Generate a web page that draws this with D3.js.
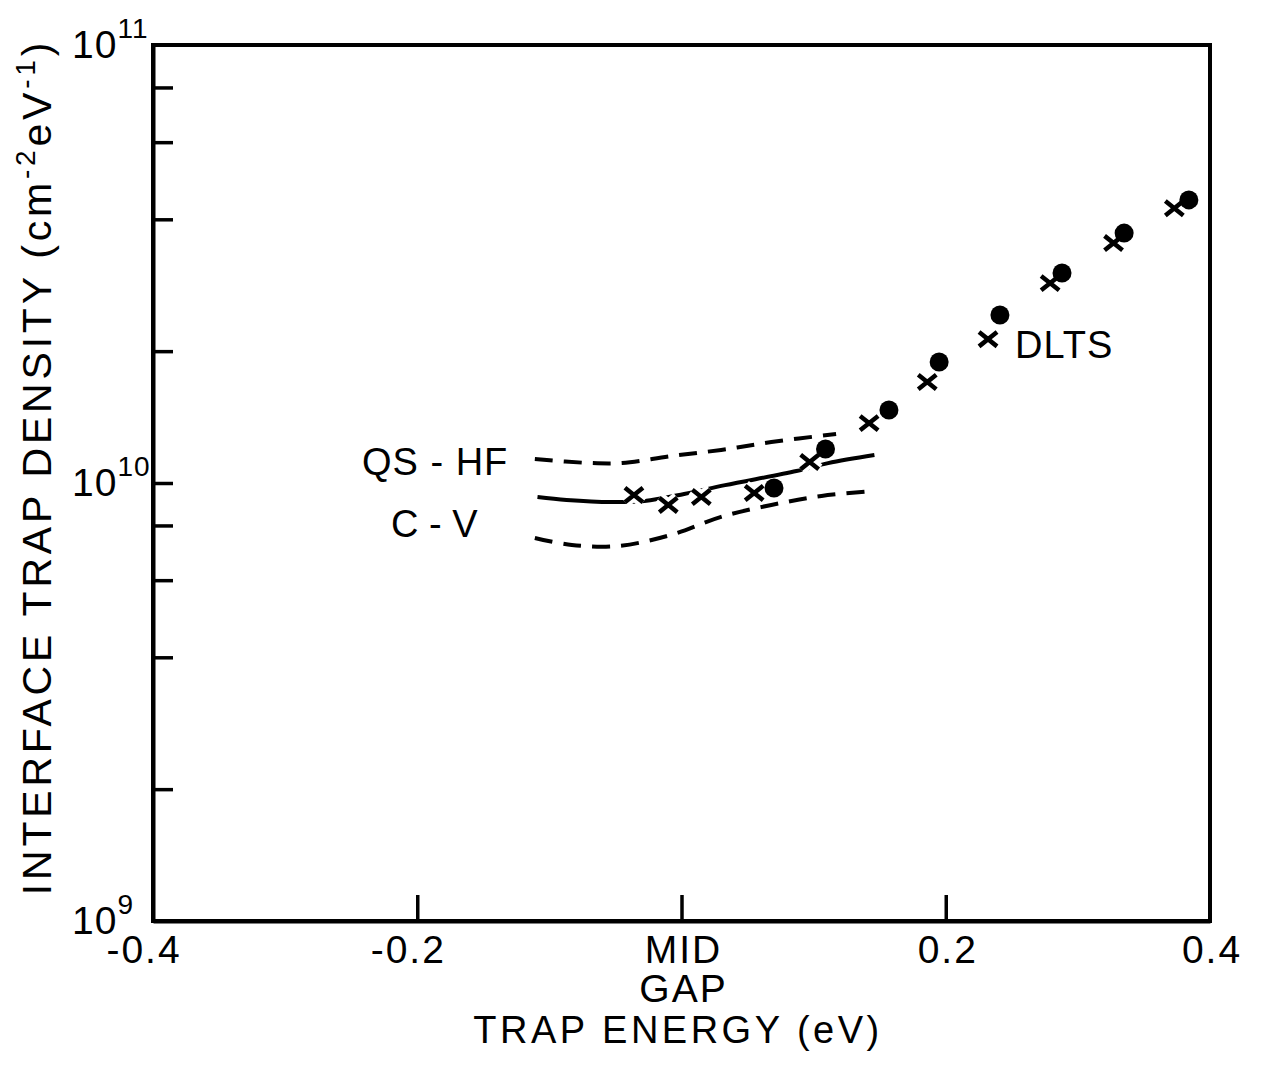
<!DOCTYPE html>
<html><head><meta charset="utf-8">
<script src="https://cdn.jsdelivr.net/npm/d3@7"></script>
<style>body{margin:0;background:#fff}text{font-family:"Liberation Sans",Arial,sans-serif;fill:#000}</style>
</head><body><svg id="c" width="1267" height="1068"></svg>
<script>
// ---- data ----
const qshfEnergy = [-0.111, -0.070, -0.045, -0.008, 0.030, 0.068, 0.117];
const qshfDensity = [1.134e10, 1.111e10, 1.111e10, 1.152e10, 1.19e10, 1.24e10, 1.294e10];
const cvEnergy = [-0.109, -0.087, -0.053, -0.028, 0.002, 0.033, 0.087, 0.111, 0.146];
const cvDensity = [9.29e9, 9.15e9, 9.05e9, 9.1e9, 9.44e9, 9.89e9, 1.065e10, 1.11e10, 1.158e10];
const cvLowEnergy = [-0.111, -0.083, -0.048, -0.008, 0.030, 0.068, 0.106, 0.145];
const cvLowDensity = [7.49e9, 7.22e9, 7.18e9, 7.61e9, 8.37e9, 8.91e9, 9.34e9, 9.59e9];
const crossEnergy = [-0.036, -0.010, 0.015, 0.055, 0.097, 0.142, 0.186, 0.232, 0.279, 0.327, 0.373];
const crossDensity = [9.39e9, 8.91e9, 9.29e9, 9.49e9, 1.117e10, 1.37e10, 1.70e10, 2.13e10, 2.86e10, 3.53e10, 4.24e10];
const dotEnergy = [0.070, 0.109, 0.157, 0.195, 0.241, 0.288, 0.335, 0.384];
const dotDensity = [9.74e9, 1.196e10, 1.468e10, 1.889e10, 2.418e10, 3.017e10, 3.72e10, 4.43e10];
const xTickValues = [-0.4, -0.2, 0, 0.2, 0.4];
const xTickLabels = ["-0.4", "-0.2", "MID", "0.2", "0.4"];
const yMinorTicks = [2e9, 4e9, 6e9, 8e9, 1e10, 2e10, 4e10, 6e10, 8e10];
const yDecades = [1e9, 1e10, 1e11];
const yDecadeExp = ["9", "10", "11"];

// ---- scales ----
const svg = d3.select("#c");
const x = d3.scaleLinear().domain([-0.4, 0.4]).range([153, 1210]);
const y = d3.scaleLog().domain([1e9, 1e11]).range([921, 45]);

// frame
svg.append("rect").attr("x", x(-0.4)).attr("y", y(1e11))
  .attr("width", x(0.4) - x(-0.4)).attr("height", y(1e9) - y(1e11))
  .attr("fill", "none").attr("stroke", "#000").attr("stroke-width", 4);

// axes (ticks inward)
const ax = svg.append("g").attr("transform", `translate(${x(-0.4)},0)`)
  .call(d3.axisLeft(y).tickValues(yMinorTicks).tickSize(-20).tickSizeOuter(0).tickFormat(""));
const bx = svg.append("g").attr("transform", `translate(0,${y(1e9)})`)
  .call(d3.axisBottom(x).tickValues([-0.2, 0, 0.2]).tickSize(-26).tickSizeOuter(0).tickFormat(""));
[ax, bx].forEach(g => {
  g.selectAll("path.domain").attr("stroke", "#000").attr("stroke-width", 4);
  g.selectAll(".tick line").attr("stroke", "#000").attr("stroke-width", 3.5);
});

// y decade labels
yDecades.forEach((v, i) => {
  const t = svg.append("text").attr("x", 72).attr("y", y(v) + 13)
    .attr("font-size", 39).attr("letter-spacing", 1);
  t.append("tspan").text("10");
  t.append("tspan").attr("dy", -20).attr("font-size", 28).text(yDecadeExp[i]);
});

// x tick labels
xTickValues.forEach((v, i) => {
  svg.append("text").attr("x", x(v) + (v < 0 ? -9 : 2)).attr("y", 963)
    .attr("text-anchor", "middle").attr("font-size", 39).attr("letter-spacing", 2)
    .text(xTickLabels[i]);
});
svg.append("text").attr("x", x(0) + 2).attr("y", 1002).attr("text-anchor", "middle")
  .attr("font-size", 39).attr("letter-spacing", 2).text("GAP");
svg.append("text").attr("x", 678).attr("y", 1043).attr("text-anchor", "middle")
  .attr("font-size", 38).attr("letter-spacing", 3.5).text("TRAP ENERGY (eV)");

// y axis title
const yt = svg.append("text").attr("transform", "translate(51,467) rotate(-90)")
  .attr("text-anchor", "middle").attr("font-size", 41).attr("letter-spacing", 3.8);
yt.append("tspan").text("INTERFACE TRAP DENSITY (cm");
yt.append("tspan").attr("dy", -16).attr("font-size", 28).text("-2");
yt.append("tspan").attr("dy", 16).text("eV");
yt.append("tspan").attr("dy", -16).attr("font-size", 28).text("-1");
yt.append("tspan").attr("dy", 16).text(")");

// curves
const line = d3.line().x(d => x(d[0])).y(d => y(d[1])).curve(d3.curveCatmullRom);
const curve = (E, N, dash) => svg.append("path")
  .attr("d", line(E.map((e, i) => [e, N[i]])))
  .attr("fill", "none").attr("stroke", "#000").attr("stroke-width", 4)
  .attr("stroke-dasharray", dash);
curve(qshfEnergy, qshfDensity, "18,11");
curve(cvEnergy, cvDensity, null);
curve(cvLowEnergy, cvLowDensity, "18,11");

// crosses (with white halo)
const crossPath = s => `M${-s},${-s*0.8}L${s},${s*0.8}M${-s},${s*0.8}L${s},${-s*0.8}`;
const cg = svg.append("g");
crossEnergy.forEach((e, i) => {
  const g = cg.append("g").attr("transform", `translate(${x(e)},${y(crossDensity[i])})`);
  g.append("path").attr("d", crossPath(9)).attr("stroke", "#fff").attr("stroke-width", 12);
  g.append("path").attr("d", crossPath(9)).attr("stroke", "#000").attr("stroke-width", 4.5);
});
// dots
svg.append("g").selectAll("circle").data(dotEnergy).join("circle")
  .attr("cx", d => x(d)).attr("cy", (d, i) => y(dotDensity[i])).attr("r", 9.5)
  .attr("fill", "#000");

// annotations
svg.append("text").attr("x", 362).attr("y", 475).attr("font-size", 38).attr("letter-spacing", 1).text("QS - HF");
svg.append("text").attr("x", 391).attr("y", 537).attr("font-size", 38).attr("letter-spacing", 0).text("C - V");
svg.append("text").attr("x", 1015).attr("y", 358).attr("font-size", 38).attr("letter-spacing", 1).text("DLTS");
</script></body></html>
